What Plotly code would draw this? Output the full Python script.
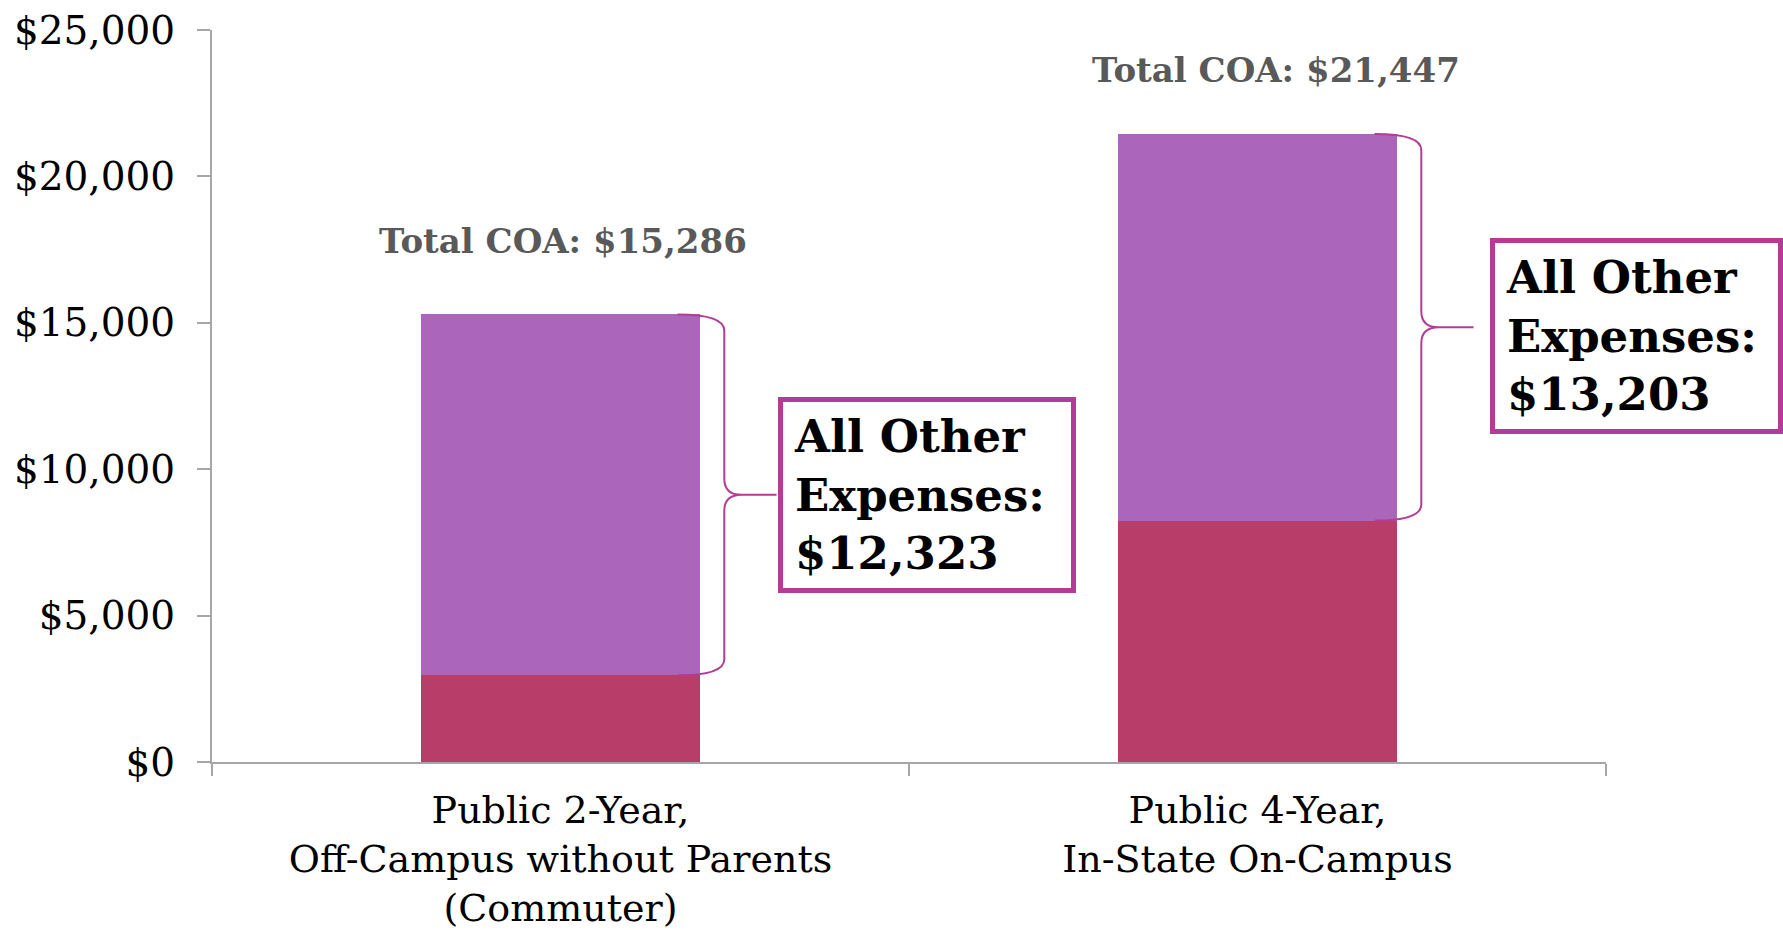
import plotly.graph_objects as go

# ---- data ----
categories = ["Public 2-Year,<br>Off-Campus without Parents<br>(Commuter)",
              "Public 4-Year,<br>In-State On-Campus"]
tuition_fees = [2963, 8244]          # bottom segment
other_expenses = [12323, 13203]      # top segment
total_coa = [15286, 21447]
y_tick_vals = [0, 5000, 10000, 15000, 20000, 25000]
y_tick_text = ["$0", "$5,000", "$10,000", "$15,000", "$20,000", "$25,000"]
coa_labels = ["Total COA: $15,286", "Total COA: $21,447"]
other_labels = ["All Other<br>Expenses:<br>$12,323", "All Other<br>Expenses:<br>$13,203"]

# ---- styles ----
BOTTOM = "#B83D68"
TOP = "#AB66BC"
MAGENTA = "#B23C96"
AXIS = "#A6A6A6"
SERIF = "DejaVu Serif"

fig = go.Figure()
fig.add_trace(go.Bar(x=categories, y=tuition_fees, marker=dict(color=BOTTOM, line=dict(width=0)),
                     hoverinfo="skip"))
fig.add_trace(go.Bar(x=categories, y=other_expenses, marker=dict(color=TOP, line=dict(width=0)),
                     hoverinfo="skip"))


def brace_path(i, y_top, y_bot):
    xs = i + 0.168   # start (on bar)
    xp = i + 0.235   # spine
    xt = i + 0.31    # tip
    ym = (y_top + y_bot) / 2
    c = 550
    return (f"M {xs},{y_top} Q {xp},{y_top} {xp},{y_top - c} "
            f"L {xp},{ym + c} Q {xp},{ym} {xp + 0.025},{ym} L {xt},{ym} "
            f"M {xp + 0.025},{ym} Q {xp},{ym} {xp},{ym - c} "
            f"L {xp},{y_bot + c} Q {xp},{y_bot} {xs},{y_bot}")


label_shift_px = [73, 64]
label_xshift_px = [2, 18]
box_offset = [0.312, 0.333]
box_yshift = [0, -9]
box_width = [266, 261]
for i in range(len(categories)):
    top = total_coa[i]
    bot = tuition_fees[i]
    fig.add_shape(type="path", path=brace_path(i, top, bot), xref="x", yref="y",
                  line=dict(color=MAGENTA, width=2))
    fig.add_annotation(x=i + box_offset[i], y=(top + bot) / 2, xref="x", yref="y",
                       text="<b>" + other_labels[i] + "</b>", showarrow=False,
                       xanchor="left", yanchor="middle", align="left", yshift=box_yshift[i],
                       width=box_width[i], height=164, valign="middle",
                       font=dict(family=SERIF, size=45, color="black"),
                       bgcolor="white", bordercolor=MAGENTA, borderwidth=5, borderpad=11)
    fig.add_annotation(x=i, y=top, xref="x", yref="y", text="<b>" + coa_labels[i] + "</b>",
                       showarrow=False, yanchor="middle", yshift=label_shift_px[i],
                       xshift=label_xshift_px[i],
                       font=dict(family=SERIF, size=34, color="#595959"))

fig.update_layout(
    barmode="stack", bargap=0.6, showlegend=False,
    width=1783, height=930, autosize=False,
    margin=dict(l=212, r=177, t=30, b=168),
    paper_bgcolor="white", plot_bgcolor="white",
    font=dict(family=SERIF, color="black"),
)
fig.update_xaxes(type="category", range=[-0.5, 1.5], tickson="boundaries", ticks="outside",
                 ticklen=12, tickcolor=AXIS, tickwidth=2, showline=True, linecolor=AXIS,
                 linewidth=2, showgrid=False, tickfont=dict(family=SERIF, size=38, color="black"),
                 ticklabelstandoff=13, automargin=False)
fig.update_yaxes(range=[0, 25000], tickmode="array", tickvals=y_tick_vals, ticktext=y_tick_text,
                 ticks="outside", ticklen=13, tickcolor=AXIS, tickwidth=2, showline=True,
                 linecolor=AXIS, linewidth=2, showgrid=False, zeroline=False,
                 tickfont=dict(family=SERIF, size=39, color="black"), ticklabelstandoff=14,
                 automargin=False)

fig.write_html("out.html")
